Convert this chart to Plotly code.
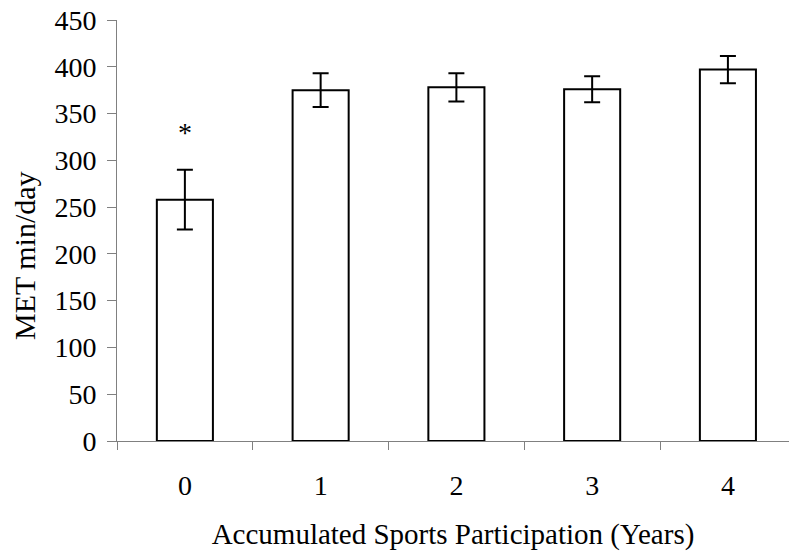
import plotly.graph_objects as go

# Mean MET minutes per day by accumulated years of sports participation
years = ["0", "1", "2", "3", "4"]
met_mean = [258, 375, 378, 376, 397]
met_err = [32, 18, 15, 14, 14.5]
y_ticks = [0, 50, 100, 150, 200, 250, 300, 350, 400, 450]

FONT = "Liberation Serif"
AXIS_GREY = "#808080"
TICK_TXT = dict(family=FONT, size=28, color="black")
TITLE_TXT = dict(family=FONT, size=29, color="black")

fig = go.Figure()
fig.add_trace(go.Bar(
    x=years,
    y=met_mean,
    width=0.413,
    marker=dict(color="white", line=dict(color="black", width=2)),
    error_y=dict(type="data", array=met_err, color="black", thickness=2, width=8),
    showlegend=False,
))

# significance marker above the first group
fig.add_annotation(
    x=years[0], y=met_mean[0] + met_err[0] + 40,
    text="*", showarrow=False, yanchor="middle",
    font=TICK_TXT,
)

# y-axis title placed as a rotated label left of the tick labels
fig.add_annotation(
    xref="paper", yref="paper", x=-0.138, y=0.44,
    text="MET min/day", textangle=-90, showarrow=False,
    xanchor="center", yanchor="middle",
    font=dict(family=FONT, size=30, color="black"),
)

fig.update_layout(
    width=789, height=553,
    margin=dict(l=117, r=0, t=20, b=112),
    paper_bgcolor="white", plot_bgcolor="white",
    font=TICK_TXT,
    bargap=0.587,
)
fig.update_xaxes(
    type="category",
    range=[-0.5, 4.45],
    tickson="boundaries",
    ticks="outside", ticklen=8, tickwidth=1, tickcolor=AXIS_GREY,
    tickfont=TICK_TXT, ticklabelstandoff=19,
    showline=True, linecolor=AXIS_GREY, linewidth=1,
    showgrid=False, zeroline=False,
    title=dict(text="Accumulated Sports Participation (Years)", standoff=24, font=TITLE_TXT),
)
fig.update_yaxes(
    range=[0, 450],
    tickvals=y_ticks,
    ticks="outside", ticklen=9, tickwidth=1, tickcolor=AXIS_GREY,
    tickfont=TICK_TXT, ticklabelstandoff=5,
    showline=True, linecolor=AXIS_GREY, linewidth=1,
    showgrid=False, zeroline=False,
)

fig.write_html("out.html")
